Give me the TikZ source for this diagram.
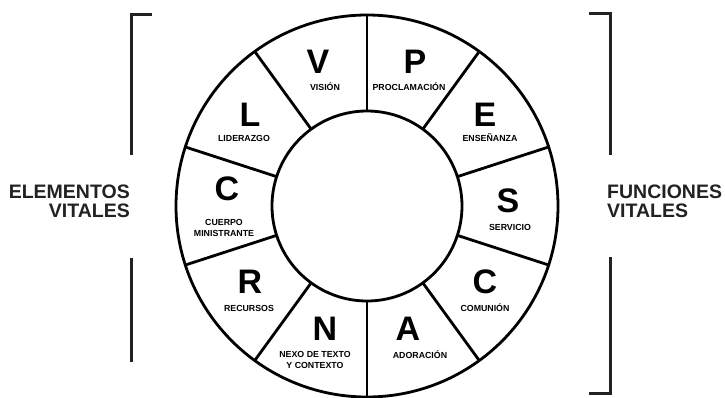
\documentclass[tikz,border=0pt]{standalone}
\usepackage{fontspec}
\setmainfont{Liberation Sans}
\definecolor{ink}{HTML}{222222}

\begin{document}
\begin{tikzpicture}[x=1pt, y=1pt,
    ring/.style={line width=2.8pt, black},
    bracket/.style={line width=3pt, ink},
    letter/.style={font=\fontsize{34}{34}\selectfont\bfseries, inner sep=0pt},
    caption/.style={font=\fontsize{8.8}{10.5}\selectfont\bfseries,
                    align=center, inner sep=0pt},
    side/.style={font=\fontsize{19.5}{19}\selectfont\bfseries, text=ink,
                 inner sep=0pt}]
  \useasboundingbox (-367,-191) rectangle (358,206);
  % the wheel
  \draw[ring, fill=white] (0,0) circle (191);
  \draw[ring] (0,0) circle (95);
  \foreach \a in {90,126,...,414}
    \draw[ring] (\a:95) -- (\a:191);
  % big letters, clockwise from the top
  \foreach \n/\t/\x/\y in {v/V/-49/144, p/P/48/144, e/E/118/91,
                           s/S/141/5, m/C/118/-76, a/A/41/-123,
                           n/N/-42/-123, r/R/-117/-76, c/C/-140/17,
                           l/L/-117/91}
    \node[letter] (ltr-\n) at (\x,\y) {\t};
  % what each letter stands for
  \foreach \n/\t/\x/\y in {v/VISIÓN/-42/119, p/PROCLAMACIÓN/42/119,
                           e/ENSEÑANZA/123/68, s/SERVICIO/143/-21,
                           m/COMUNIÓN/118/-102, a/ADORACIÓN/53/-149,
                           n/NEXO DE TEXTO\\Y CONTEXTO/-52/-154,
                           r/RECURSOS/-118/-102,
                           c/CUERPO\\MINISTRANTE/-143/-22,
                           l/LIDERAZGO/-123/68}
    \node[caption] (cap-\n) at (\x,\y) {\t};
  % left bracket
  \draw[bracket] (-215,192) -- (-235,192) -- (-235,51);
  \draw[bracket] (-235,-52) -- (-235,-156);
  \node[side, align=right, anchor=east] (elem) at (-237,4.5)
    {ELEMENTOS\\VITALES};
  % right bracket
  \draw[bracket] (222,193) -- (243,193) -- (243,51);
  \draw[bracket] (243,-51) -- (243,-187) -- (222,-187);
  \node[side, align=left, anchor=west] (func) at (240,4.5)
    {FUNCIONES\\VITALES};
\end{tikzpicture}
\end{document}
